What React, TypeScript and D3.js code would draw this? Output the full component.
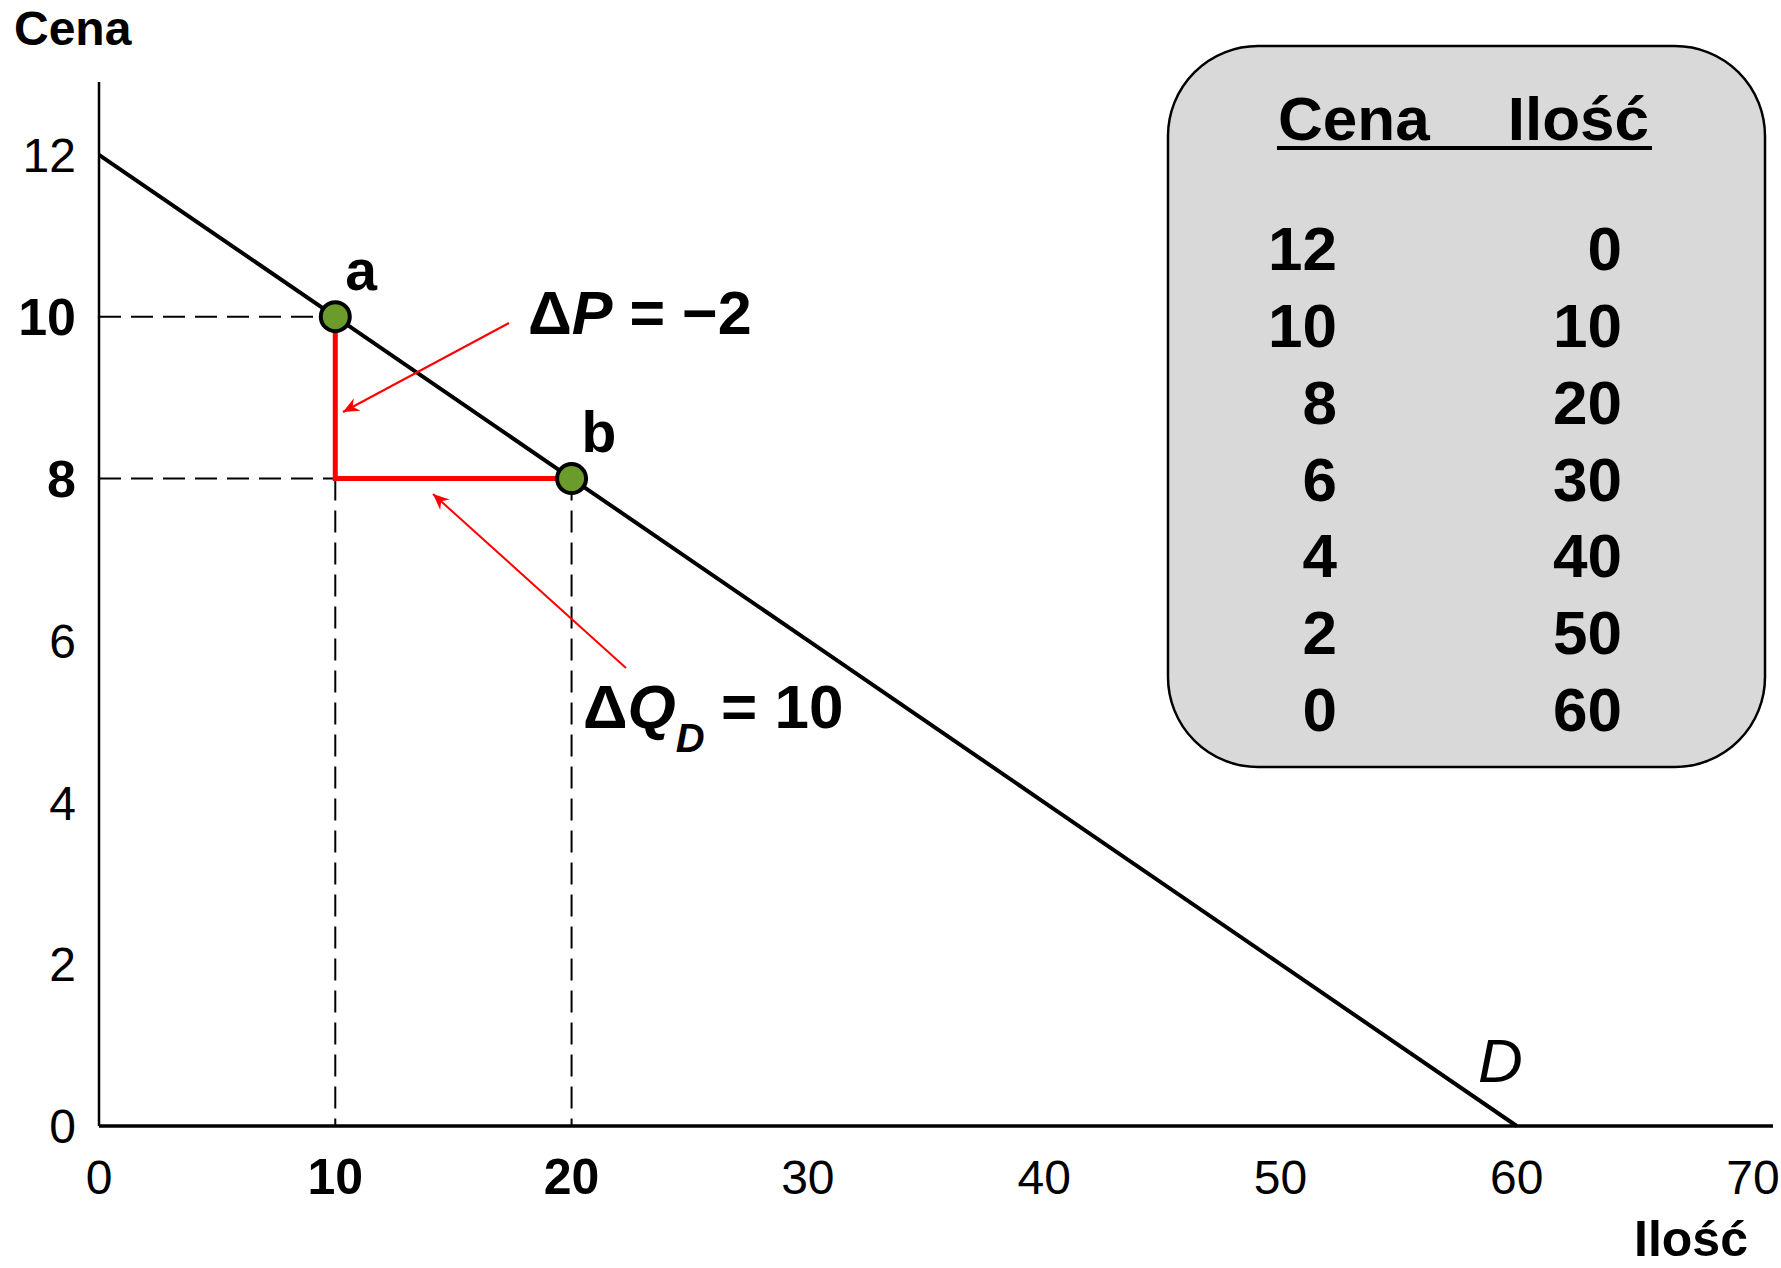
import React from 'react';
import * as d3 from 'd3';

// demand schedule (table + curve)
const tablePrice = [12, 10, 8, 6, 4, 2, 0];
const tableQty = [0, 10, 20, 30, 40, 50, 60];

// highlighted points
const pointNames = ['a', 'b'];
const pointQty = [10, 20];
const pointPrice = [10, 8];

const xTicks = [0, 10, 20, 30, 40, 50, 60, 70];
const yTicks = [0, 2, 4, 6, 8, 10, 12];
const boldX = [10, 20];
const boldY = [8, 10];

const W = 1781;
const H = 1268;
const FONT = '"Liberation Sans", Arial, sans-serif';
const RED = '#ff0000';

export default function App() {
  const x = d3.scaleLinear().domain([0, 70]).range([99, 1753]);
  const y = d3.scaleLinear().domain([0, 12.9]).range([1126, 82]);

  const demand = tableQty.map((q, i) => [q, tablePrice[i]] as [number, number]);
  const line = d3
    .line<[number, number]>()
    .x((d) => x(d[0]))
    .y((d) => y(d[1]));

  const rowY = d3
    .scalePoint<number>()
    .domain(d3.range(tablePrice.length))
    .range([270, 731]);

  const [qa, qb] = pointQty;
  const [pa, pb] = pointPrice;

  return (
    <svg
      width={W}
      height={H}
      style={{ position: 'absolute', left: 0, top: 0, background: '#fff' }}
      fontFamily={FONT}
    >
      <defs>
        <marker
          id="arr"
          markerUnits="userSpaceOnUse"
          markerWidth={18}
          markerHeight={14}
          refX={16}
          refY={7}
          orient="auto"
        >
          <path d="M0,0 L16,7 L0,14 L5,7 Z" fill={RED} />
        </marker>
      </defs>

      {/* axis titles */}
      <text x={14} y={45} fontSize={48} fontWeight="bold">Cena</text>
      <text x={1748} y={1256} fontSize={50} fontWeight="bold" textAnchor="end">Ilość</text>

      {/* dashed guides */}
      <g stroke="#000" strokeWidth={2} strokeDasharray="22 10" fill="none">
        <line x1={x(0)} x2={x(qa)} y1={y(pa)} y2={y(pa)} />
        <line x1={x(0)} x2={x(qa)} y1={y(pb)} y2={y(pb)} />
        <line x1={x(qa)} x2={x(qa)} y1={y(pb)} y2={y(0)} />
        <line x1={x(qb)} x2={x(qb)} y1={y(pb)} y2={y(0)} />
      </g>

      {/* axes */}
      <line x1={x(0)} x2={x(0)} y1={y(12.9)} y2={y(0)} stroke="#000" strokeWidth={2.5} />
      <line x1={x(0)} x2={x(70) + 20} y1={y(0)} y2={y(0)} stroke="#000" strokeWidth={3.5} />

      {yTicks.map((t) => (
        <text
          key={'y' + t}
          x={76}
          y={y(t)}
          dy="0.36em"
          textAnchor="end"
          fontSize={boldY.includes(t) ? 52 : 48}
          fontWeight={boldY.includes(t) ? 'bold' : 'normal'}
        >
          {t}
        </text>
      ))}
      {xTicks.map((t) => (
        <text
          key={'x' + t}
          x={x(t)}
          y={y(0) + 68}
          textAnchor="middle"
          fontSize={boldX.includes(t) ? 50 : 48}
          fontWeight={boldX.includes(t) ? 'bold' : 'normal'}
        >
          {t}
        </text>
      ))}

      {/* demand curve */}
      <path d={line(demand) ?? ''} fill="none" stroke="#000" strokeWidth={4} />
      <text x={1478} y={1082} fontSize={62} fontStyle="italic">D</text>

      {/* change triangle */}
      <path
        d={`M${x(qa)},${y(pa)} L${x(qa)},${y(pb)} L${x(qb)},${y(pb)}`}
        fill="none"
        stroke={RED}
        strokeWidth={5}
      />

      {/* points */}
      {pointNames.map((n, i) => (
        <g key={n}>
          <circle
            cx={x(pointQty[i])}
            cy={y(pointPrice[i])}
            r={14.5}
            fill="#6a9b2b"
            stroke="#000"
            strokeWidth={4}
          />
          <text
            x={x(pointQty[i]) + 10}
            y={y(pointPrice[i]) - 27}
            fontSize={57}
            fontWeight="bold"
          >
            {n}
          </text>
        </g>
      ))}

      {/* annotations */}
      <line x1={509} y1={323} x2={343} y2={412} stroke={RED} strokeWidth={2} markerEnd="url(#arr)" />
      <line x1={626} y1={668} x2={433} y2={494} stroke={RED} strokeWidth={2} markerEnd="url(#arr)" />

      <text x={528} y={334} fontSize={61} fontWeight="bold">
        <tspan>Δ</tspan>
        <tspan fontStyle="italic">P</tspan>
        <tspan> = −2</tspan>
      </text>
      <text x={583} y={728} fontSize={62} fontWeight="bold">
        <tspan>Δ</tspan>
        <tspan fontStyle="italic">Q</tspan>
        <tspan fontStyle="italic" fontSize={40} dy={24}>D</tspan>
        <tspan x={721} dy={-24}>= 10</tspan>
      </text>

      {/* schedule table */}
      <rect x={1168} y={46} width={597} height={721} rx={90} fill="#d9d9d9" stroke="#000" strokeWidth={2.5} />
      <text x={1278} y={140} fontSize={62} fontWeight="bold">Cena</text>
      <text x={1649} y={140} fontSize={62} fontWeight="bold" textAnchor="end">Ilość</text>
      <line x1={1277} x2={1652} y1={148} y2={148} stroke="#000" strokeWidth={4} />
      {tablePrice.map((p, i) => (
        <g key={'r' + i} fontSize={62} fontWeight="bold" textAnchor="end">
          <text x={1337} y={rowY(i)}>{p}</text>
          <text x={1622} y={rowY(i)}>{tableQty[i]}</text>
        </g>
      ))}
    </svg>
  );
}
